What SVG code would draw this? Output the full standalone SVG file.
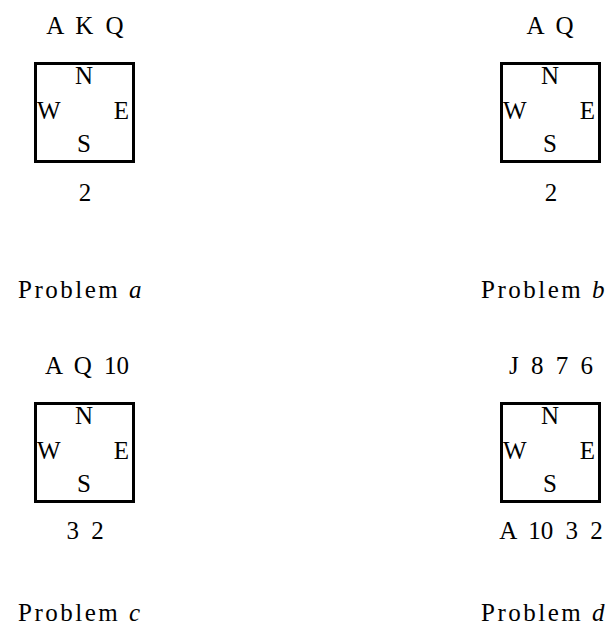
<svg xmlns="http://www.w3.org/2000/svg" width="612" height="627" viewBox="0 0 612 627">
<style>
text{font-family:"Liberation Serif","DejaVu Serif",serif;font-size:25px;fill:#000}
.c{text-anchor:middle}
.e{text-anchor:end}
.h{word-spacing:6px}
.p{letter-spacing:2.5px}
.box{fill:none;stroke:#000;stroke-width:3}
</style>
<rect width="612" height="627" fill="#fff"/>
<g id="problem-a">
<text class="c h" x="85" y="34">A K Q</text>
<rect class="box" x="35.5" y="63.5" width="98" height="98"/>
<text class="c" x="84" y="84">N</text>
<text x="37" y="119">W</text>
<text class="e" x="129" y="119">E</text>
<text class="c" x="84" y="152">S</text>
<text class="c" x="85" y="201">2</text>
<text class="p" x="18" y="298">Problem <tspan font-style="italic">a</tspan></text>
</g>
<g id="problem-b">
<text class="c h" x="550" y="34">A Q</text>
<rect class="box" x="501.5" y="63.5" width="98" height="98"/>
<text class="c" x="550" y="84">N</text>
<text x="503" y="119">W</text>
<text class="e" x="595" y="119">E</text>
<text class="c" x="550" y="152">S</text>
<text class="c" x="551" y="201">2</text>
<text class="p" x="481" y="298">Problem <tspan font-style="italic">b</tspan></text>
</g>
<g id="problem-c">
<text class="c h" x="87" y="374">A Q 10</text>
<rect class="box" x="35.5" y="403.5" width="98" height="98"/>
<text class="c" x="84" y="424">N</text>
<text x="37" y="459">W</text>
<text class="e" x="129" y="459">E</text>
<text class="c" x="84" y="492">S</text>
<text class="c h" x="85" y="539">3 2</text>
<text class="p" x="18" y="621">Problem <tspan font-style="italic">c</tspan></text>
</g>
<g id="problem-d">
<text class="c h" x="551" y="374">J 8 7 6</text>
<rect class="box" x="501.5" y="403.5" width="98" height="98"/>
<text class="c" x="550" y="424">N</text>
<text x="503" y="459">W</text>
<text class="e" x="595" y="459">E</text>
<text class="c" x="550" y="492">S</text>
<text class="c h" x="551" y="539">A 10 3 2</text>
<text class="p" x="481" y="621">Problem <tspan font-style="italic">d</tspan></text>
</g>
<g id="connectors"></g>
</svg>
